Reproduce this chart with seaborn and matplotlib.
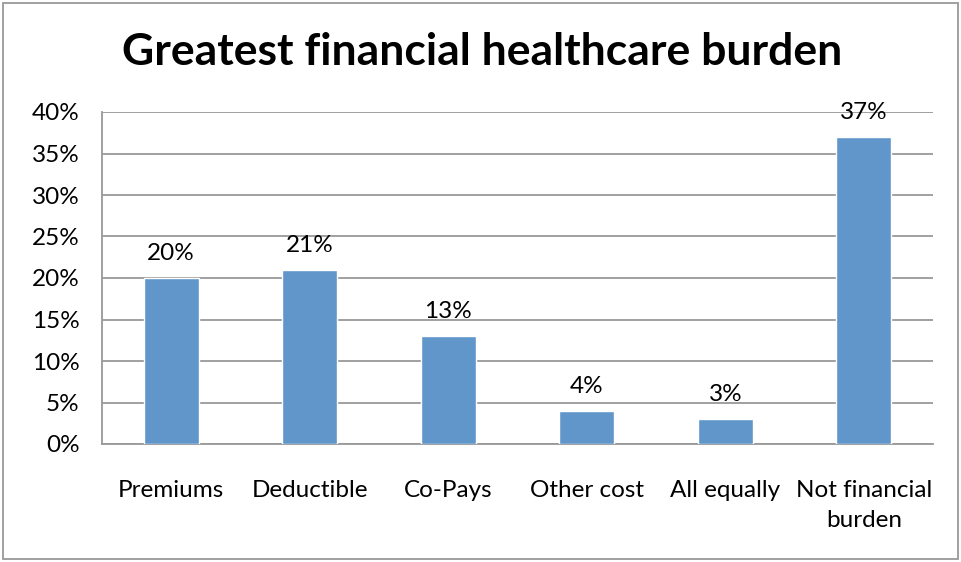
import matplotlib
matplotlib.use("Agg")
import matplotlib.pyplot as plt
import seaborn as sns
import pandas as pd
from matplotlib.ticker import PercentFormatter, MultipleLocator
from matplotlib.patches import Rectangle

categories = ["Premiums", "Deductible", "Co-Pays", "Other cost", "All equally", "Not financial\nburden"]
shares = [20, 21, 13, 4, 3, 37]
value_labels = ["20%", "21%", "13%", "4%", "3%", "37%"]

sns.set_theme(style="white")
plt.rcParams["font.family"] = ["Lato", "DejaVu Sans"]
plt.rcParams["text.color"] = "black"

df = pd.DataFrame({"category": categories, "share": shares})

fig = plt.figure(figsize=(9.61, 5.62), dpi=100)
ax = fig.add_axes([102 / 961, 1 - 444 / 562, (933 - 102) / 961, (444 - 112) / 562])

sns.barplot(data=df, x="category", y="share", color="#6096CA", width=0.4,
            saturation=1, ax=ax, zorder=3)

ax.set_ylim(0, 40)
ax.yaxis.set_major_locator(MultipleLocator(5))
ax.yaxis.set_major_formatter(PercentFormatter(decimals=0))
ax.grid(axis="y", color="#999999", linewidth=1.3, zorder=0)
ax.set_axisbelow(True)
for side in ["top", "right"]:
    ax.spines[side].set_visible(False)
for side in ["left", "bottom"]:
    ax.spines[side].set_color("#999999")
    ax.spines[side].set_linewidth(1.3)
ax.set_xlabel("")
ax.set_ylabel("")
ax.tick_params(axis="both", length=0, labelsize=17.5, colors="black")
ax.tick_params(axis="y", pad=16)
ax.tick_params(axis="x", pad=26)
for lbl in ax.get_xticklabels():
    lbl.set_linespacing(1.55)

for container in ax.containers:
    ax.bar_label(container, labels=value_labels, padding=10, fontsize=17.5, color="black")

fig.text(482 / 961, 1 - 52 / 562, "Greatest financial healthcare burden",
         ha="center", va="center", fontsize=32, fontweight="bold", color="black")

fig.patches.append(Rectangle((3 / 961, 3 / 562), 955 / 961, 556 / 562,
                             transform=fig.transFigure, fill=False,
                             edgecolor="#999999", linewidth=1.3))

fig.savefig("out.png", dpi=100)
